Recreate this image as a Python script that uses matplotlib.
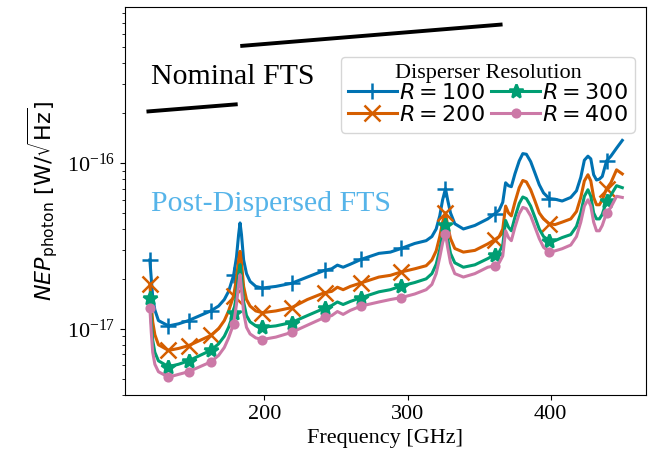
import numpy as np
import matplotlib
matplotlib.use("Agg")
import matplotlib.pyplot as plt

plt.rcParams['font.family'] = ['Liberation Serif', 'DejaVu Serif']
plt.rcParams['mathtext.fontset'] = 'dejavusans'
plt.rcParams['font.size'] = 16

# frequencies [GHz] (shared by all four curves)
freq = [120, 121, 122, 123.5, 126, 133, 140, 147, 155, 162.5, 168, 172, 175, 178.5, 180.5,
        182, 183, 184, 185.5, 187.5, 190, 194, 198.5, 208, 219, 230, 242, 247, 251, 255,
        260, 267.5, 280, 288, 295.5, 305, 313, 317, 320, 322.5, 324.5, 326.5, 328, 330, 333,
        339, 347, 356, 361, 364, 366.5, 368.5, 370.5, 372.5, 375, 378, 380.5, 383, 386, 389,
        392, 395, 399, 403, 408, 414, 418, 421, 423.5, 426, 428, 430, 432, 434, 436,
        439, 442, 446, 450]

# NEP in units of 1e-17 W/sqrt(Hz)
nep_r100 = [2.6, 2.0, 1.55, 1.3, 1.12, 1.04, 1.07, 1.12, 1.2, 1.28, 1.37, 1.5, 1.68, 2.1, 2.7,
            3.7, 4.35, 3.7, 2.6, 2.15, 1.93, 1.8, 1.76, 1.8, 1.88, 2.05, 2.25, 2.3, 2.42, 2.35,
            2.45, 2.62, 2.85, 2.9, 3.05, 3.27, 3.4, 3.6, 4.0, 4.8, 6.0, 7.0, 6.0, 5.0, 4.3,
            4.0, 4.2, 4.6, 4.95, 5.2, 5.8, 7.6, 7.3, 7.2, 8.6, 10.3, 11.4, 11.3, 10.2, 8.7,
            7.4, 6.6, 6.1, 6.05, 5.9, 6.2, 6.8, 8.2, 10.4, 11.0, 10.6, 8.5, 7.9, 8.0, 8.3,
            10.3, 11.0, 12.3, 13.7]
nep_r200 = [1.85, 1.4, 1.1, 0.92, 0.8, 0.74, 0.76, 0.79, 0.85, 0.91, 1.0, 1.12, 1.28, 1.58, 2.0,
            2.6, 2.93, 2.5, 1.8, 1.5, 1.37, 1.28, 1.25, 1.28, 1.34, 1.5, 1.65, 1.68, 1.78, 1.72,
            1.8, 1.89, 2.05, 2.1, 2.2, 2.3, 2.4, 2.6, 2.95, 3.6, 4.4, 5.0, 4.2, 3.5, 3.05,
            2.9, 2.97, 3.25, 3.45, 3.6, 4.0, 5.5, 5.0, 4.8, 5.8, 7.1, 7.85, 7.7, 6.9, 5.9,
            5.0, 4.6, 4.3, 4.25, 4.4, 4.6, 5.1, 6.2, 7.8, 8.5, 7.8, 6.2, 5.6, 5.6, 6.0,
            7.0, 7.6, 9.1, 8.6]
nep_r300 = [1.54, 1.1, 0.85, 0.72, 0.64, 0.59, 0.61, 0.64, 0.69, 0.74, 0.81, 0.9, 1.02, 1.25, 1.6,
            2.15, 2.44, 2.05, 1.45, 1.2, 1.1, 1.04, 1.02, 1.04, 1.09, 1.2, 1.33, 1.38, 1.45, 1.4,
            1.46, 1.54, 1.67, 1.72, 1.81, 1.9, 2.0, 2.15, 2.45, 3.0, 3.7, 4.2, 3.5, 2.85, 2.5,
            2.35, 2.43, 2.65, 2.8, 2.9, 3.2, 4.5, 4.1, 3.9, 4.7, 5.7, 6.24, 6.1, 5.5, 4.7,
            4.0, 3.6, 3.4, 3.4, 3.55, 3.7, 4.15, 5.0, 6.3, 6.9, 6.3, 5.0, 4.6, 4.6, 4.9,
            5.9, 6.4, 7.3, 7.1]
nep_r400 = [1.34, 0.95, 0.72, 0.61, 0.55, 0.51, 0.53, 0.55, 0.59, 0.63, 0.69, 0.77, 0.88, 1.07, 1.4,
            1.85, 2.12, 1.75, 1.25, 1.02, 0.93, 0.88, 0.86, 0.89, 0.95, 1.05, 1.17, 1.2, 1.27, 1.22,
            1.29, 1.37, 1.45, 1.5, 1.54, 1.62, 1.72, 1.85, 2.15, 2.7, 3.3, 3.75, 3.1, 2.5, 2.15,
            2.05, 2.15, 2.35, 2.4, 2.5, 2.75, 3.9, 3.55, 3.4, 4.1, 4.95, 5.4, 5.3, 4.8, 4.1,
            3.5, 3.1, 2.9, 2.95, 3.04, 3.2, 3.6, 4.4, 5.5, 6.0, 5.5, 4.4, 3.9, 3.9, 4.2,
            5.0, 5.4, 6.3, 6.2]

# frequencies where the markers sit
marker_freq = [120, 133, 147, 162.5, 178.5, 198.5, 219, 242, 267.5, 295.5, 326.5, 361, 399, 439]

# nominal FTS sensitivity (two bands)
nom1_freq = [119, 180]
nom1_nep = [2.05e-16, 2.26e-16]
nom2_freq = [184.5, 365]
nom2_nep = [5.1e-16, 6.85e-16]

labels = ['$R = 100$', '$R = 200$', '$R = 300$', '$R = 400$']
series = [nep_r100, nep_r200, nep_r300, nep_r400]
colors = ['#0072B2', '#D55E00', '#009E73', '#CC79A7']
markers = ['+', 'x', '*', 'o']
msizes = [12, 11, 10, 5.5]

freq = np.array(freq)
mark_idx = [int(np.argmin(np.abs(freq - f))) for f in marker_freq]

fig = plt.figure(figsize=(6.67, 4.65), dpi=100)
ax = fig.add_axes([0.187, 0.151, 0.7815, 0.834])

for vals, lab, c, m, ms in zip(series, labels, colors, markers, msizes):
    ax.plot(freq, np.array(vals) * 1e-17, color=c, lw=2.2, marker=m, ms=ms, mew=1.8,
            markevery=mark_idx, label=lab)

ax.plot(nom1_freq, nom1_nep, color='black', lw=2.8)
ax.plot(nom2_freq, nom2_nep, color='black', lw=2.8)

ax.set_yscale('log')
ax.text(120.5, 3.0e-16, 'Nominal FTS', fontsize=21.5, color='black')
ax.text(120.5, 5.1e-17, 'Post-Dispersed FTS', fontsize=21.5, color='#56B4E9')

ax.set_xlabel('Frequency [GHz]')
ax.set_ylabel(r'$NEP_\mathrm{photon}\ [\mathrm{W}/\sqrt{\mathrm{Hz}}]$')
ax.set_xticks([200, 300, 400])

ax.legend(title='Disperser Resolution', ncol=2, loc='upper right',
          bbox_to_anchor=(1.0, 0.9), handlelength=2.2, handletextpad=0.1,
          columnspacing=0.3, labelspacing=0.05, borderpad=0.3, fontsize=16,
          title_fontsize=16)

fig.savefig('out.png', dpi=100)
